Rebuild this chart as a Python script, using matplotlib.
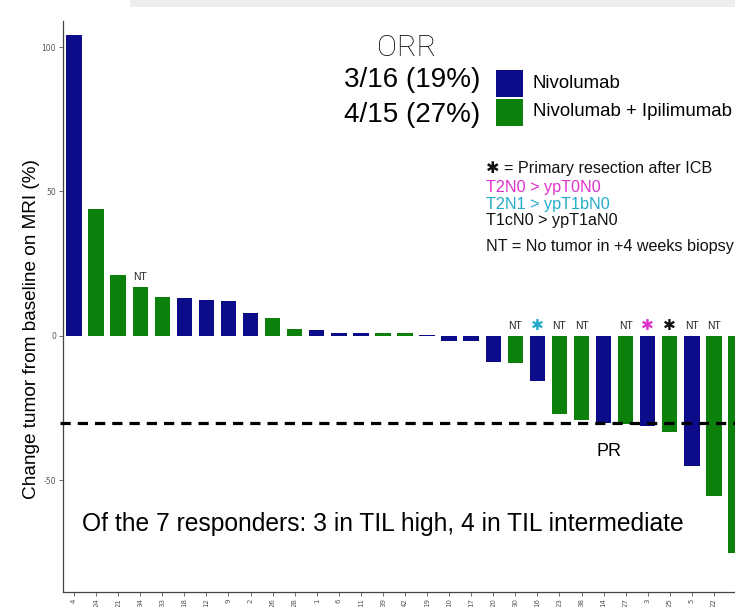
import matplotlib.pyplot as plt
from matplotlib.patches import Rectangle

# patient IDs in waterfall order (last ID is off the visible edge)
patients = ["4", "24", "21", "34", "33", "18", "12", "9", "2", "26", "28", "1", "6", "11",
            "39", "42", "19", "10", "17", "20", "30", "16", "23", "38", "14", "27", "3",
            "25", "5", "22", ""]
change = [104, 44, 21, 17, 13.5, 13, 12.5, 12, 8, 6.3, 2.3, 2, 1.2, 1.2,
          1, 1, 0.5, -1.6, -1.6, -9, -9.5, -15.6, -27, -29, -30.2, -30.5, -31,
          -33.3, -45, -55.5, -75]
arm = ["N", "NI", "NI", "NI", "NI", "N", "N", "N", "N", "NI", "NI", "N", "N", "N",
       "NI", "NI", "N", "N", "N", "N", "NI", "N", "NI", "NI", "N", "NI", "N",
       "NI", "N", "NI", "NI"]
# NT = no tumor in biopsy, star_* = primary resection after ICB
marks = {3: "NT", 20: "NT", 21: "star_teal", 22: "NT", 23: "NT", 25: "NT",
         26: "star_magenta", 27: "star_black", 28: "NT", 29: "NT"}
pr_cutoff = -30

arm_colors = {"N": "#0c0c8a", "NI": "#0b800b"}
star_colors = {"star_teal": "#22aacb", "star_magenta": "#de30cc", "star_black": "#111111"}

W, H = 735, 607
fig = plt.figure(figsize=(W / 100, H / 100), dpi=100)


def fx(px):
    return px / W


def fy(py):
    return 1 - py / H


# faint band along the top edge
fig.add_artist(Rectangle((fx(130), fy(7)), 1, 7 / H, transform=fig.transFigure,
                         facecolor="#efedeb", edgecolor="none", zorder=0))

ax = fig.add_axes([fx(63), fy(592), 684 / W, (592 - 21) / H])
x = list(range(len(change)))
ax.bar(x, change, width=0.7, color=[arm_colors[a] for a in arm], zorder=2)
ax.axhline(pr_cutoff, xmin=-0.005, color="black", lw=2.3, dashes=(3.2, 2.2),
           zorder=3, clip_on=False)

ax.set_xlim(-0.5, len(change) - 0.5)
ax.set_ylim(-88.6, 109)
ax.set_xticks(x)
ax.set_xticklabels(patients, rotation=90, fontsize=5, color="#555555")
ax.set_yticks([-50, 0, 50, 100])
ax.set_yticklabels(["-50", "0", "50", "100"], fontsize=5.5, color="#555555")
ax.tick_params(length=3, width=0.6, color="#555555", pad=2)
ax.tick_params(axis="x", pad=1.5)
for side in ["top", "right"]:
    ax.spines[side].set_visible(False)
for side in ["left", "bottom"]:
    ax.spines[side].set_color("#444444")
    ax.spines[side].set_linewidth(0.9)

for i, m in marks.items():
    ytxt = max(change[i], 0) + 3.5
    if m == "NT":
        ax.text(i, ytxt, "NT", ha="center", va="center", fontsize=7.5,
                color="#222222", family="Liberation Sans")
    else:
        ax.text(i, ytxt, "\u2731", ha="center", va="center", fontsize=11,
                color=star_colors[m], family="DejaVu Sans")

fig.text(fx(32), fy(329), "Change tumor from baseline on MRI (%)", rotation=90,
         ha="center", va="center", fontsize=13.7, family="Liberation Sans")

# response summary and legend
fig.text(fx(407), fy(48), "ORR", ha="center", va="center", fontsize=21.5,
         family="Roboto", fontweight="light")
fig.text(fx(480), fy(80), "3/16 (19%)", ha="right", va="center", fontsize=20,
         family="Liberation Sans")
fig.text(fx(480), fy(115), "4/15 (27%)", ha="right", va="center", fontsize=20,
         family="Liberation Sans")
fig.add_artist(Rectangle((fx(496), fy(97)), 27 / W, 27 / H, transform=fig.transFigure,
                         facecolor=arm_colors["N"], edgecolor="none"))
fig.add_artist(Rectangle((fx(496), fy(126)), 27 / W, 27 / H, transform=fig.transFigure,
                         facecolor=arm_colors["NI"], edgecolor="none"))
fig.text(fx(533), fy(84), "Nivolumab", ha="left", va="center", fontsize=13.4,
         family="Liberation Sans")
fig.text(fx(533), fy(112), "Nivolumab + Ipilimumab", ha="left", va="center",
         fontsize=13.4, family="Liberation Sans")

notes = [("\u2731 = Primary resection after ICB", "#111111", 169),
         ("T2N0 > ypT0N0", star_colors["star_magenta"], 187),
         ("T2N1 > ypT1bN0", star_colors["star_teal"], 204),
         ("T1cN0 > ypT1aN0", "#111111", 221),
         ("NT = No tumor in +4 weeks biopsy", "#111111", 246)]
for txt, col, py in notes:
    fig.text(fx(486), fy(py), txt, ha="left", va="center", fontsize=11.6, color=col,
             family=["Liberation Sans", "DejaVu Sans"])

fig.text(fx(609), fy(452), "PR", ha="center", va="center", fontsize=13,
         family="Liberation Sans")
fig.text(fx(82), fy(524), "Of the 7 responders: 3 in TIL high, 4 in TIL intermediate",
         ha="left", va="center", fontsize=17.7, family="Liberation Sans")

fig.savefig("out.png", dpi=100)
